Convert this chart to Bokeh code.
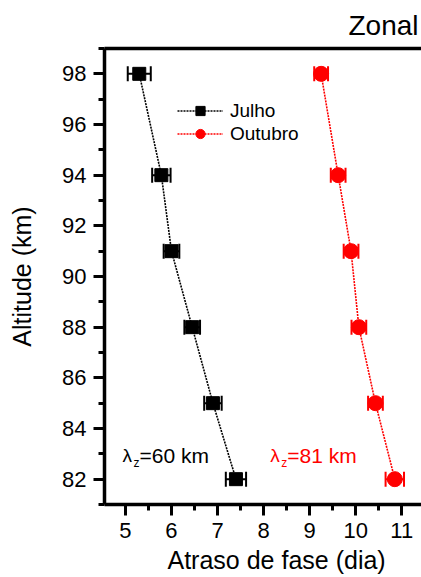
from bokeh.plotting import figure
from bokeh.models import (ColumnDataSource, Whisker, TeeHead, Legend, LegendItem,
                          LinearAxis, FixedTicker, SingleIntervalTicker, Range1d, Label, Title)
from bokeh.embed import file_html
from bokeh.resources import INLINE

# Phase delay (days) versus altitude (km), zonal component
altitude = [98, 94, 91, 88, 85, 82]
julho = [5.30, 5.78, 6.00, 6.45, 6.90, 7.40]
julho_err = [0.25, 0.20, 0.17, 0.17, 0.19, 0.22]
outubro = [9.25, 9.62, 9.90, 10.07, 10.43, 10.85]
outubro_err = [0.15, 0.16, 0.16, 0.16, 0.16, 0.20]
series_names = ["Julho", "Outubro"]
wavelength_labels = ["=60 km", "=81 km"]
x_ticks_step = 1
y_ticks_step = 2

FONT = "Liberation Sans"

p = figure(width=421, height=577, output_backend="svg", toolbar_location=None,
           x_range=Range1d(4.545, 11.43), y_range=Range1d(81, 99),
           min_border_left=104, min_border_right=0, min_border_top=48,
           min_border_bottom=73, x_axis_location="below")
p.outline_line_color = None
p.xgrid.visible = False
p.ygrid.visible = False
p.background_fill_color = "white"
p.border_fill_color = "white"

for ax in (p.xaxis[0], p.yaxis[0]):
    ax.axis_line_width = 3.5
    ax.axis_line_color = "black"
    ax.major_tick_line_width = 3
    ax.minor_tick_line_width = 3
    ax.major_tick_in = 0
    ax.major_tick_out = 11
    ax.minor_tick_in = 0
    ax.minor_tick_out = 6
    ax.major_label_text_font = FONT
    ax.major_label_text_font_size = "22px"
    ax.major_label_text_color = "black"

p.xaxis[0].ticker = SingleIntervalTicker(interval=x_ticks_step, num_minor_ticks=2)
p.yaxis[0].ticker = SingleIntervalTicker(interval=y_ticks_step, num_minor_ticks=2)
p.xaxis[0].major_label_standoff = 7
p.yaxis[0].major_label_standoff = 7

# y axis title
p.yaxis[0].axis_label = "Altitude (km)"
p.yaxis[0].axis_label_text_font = FONT
p.yaxis[0].axis_label_text_font_size = "25px"
p.yaxis[0].axis_label_text_font_style = "normal"
p.yaxis[0].axis_label_text_color = "black"
p.yaxis[0].axis_label_standoff = 23

# top frame line
top = LinearAxis(ticker=FixedTicker(ticks=[], minor_ticks=[]),
                 major_label_text_font_size="0px", axis_line_width=3.5,
                 major_tick_line_color=None, minor_tick_line_color=None)
p.add_layout(top, "above")

# panel title
p.title.text = "Zonal"
p.title.align = "right"
p.title.offset = 3
p.title.standoff = 15
p.title.text_font = FONT
p.title.text_font_size = "28px"
p.title.text_font_style = "normal"
p.title.text_color = "black"

# x axis title, set below the tick labels
p.add_layout(Title(text="Atraso de fase (dia)", align="left", offset=63, standoff=7,
                   text_font=FONT, text_font_size="25px", text_font_style="normal",
                   text_color="black"), "below")

src_j = ColumnDataSource(dict(x=julho, y=altitude,
                              lo=[a - b for a, b in zip(julho, julho_err)],
                              hi=[a + b for a, b in zip(julho, julho_err)]))
src_o = ColumnDataSource(dict(x=outubro, y=altitude,
                              lo=[a - b for a, b in zip(outubro, outubro_err)],
                              hi=[a + b for a, b in zip(outubro, outubro_err)]))

items = []
for src, color, marker, size, name in ((src_j, "black", "square", 13, series_names[0]),
                                        (src_o, "red", "circle", 15, series_names[1])):
    ln = p.line("x", "y", source=src, line_color=color, line_width=1.6, line_dash="2 1")
    wk = Whisker(source=src, base="y", lower="lo", upper="hi", dimension="width",
                 line_color=color, line_width=2,
                 upper_head=TeeHead(size=15, line_color=color, line_width=2),
                 lower_head=TeeHead(size=15, line_color=color, line_width=2))
    p.add_layout(wk)
    sc = p.scatter("x", "y", source=src, marker=marker, size=size,
                   fill_color=color, line_color=color)
    items.append(LegendItem(label=name, renderers=[ln, sc]))

legend = Legend(items=items, location=(73, 359), glyph_width=46, glyph_height=23,
                label_height=23, label_standoff=7, spacing=0, padding=0, margin=0,
                border_line_color=None, background_fill_alpha=0,
                label_text_font=FONT, label_text_font_size="19px",
                label_text_color="black")
p.add_layout(legend, "center")

# wavelength annotations
for (xl, xz, xt), color, txt in (((4.935, 5.174, 5.304), "black", wavelength_labels[0]),
                                  ((8.147, 8.386, 8.516), "red", wavelength_labels[1])):
    p.add_layout(Label(x=xl, y=82.94, text="λ", text_font=FONT, text_font_size="19px",
                       text_color=color, text_baseline="alphabetic"))
    p.add_layout(Label(x=xz, y=82.62, text="z", text_font=FONT, text_font_size="12px",
                       text_color=color, text_baseline="alphabetic"))
    p.add_layout(Label(x=xt, y=82.94, text=txt, text_font=FONT, text_font_size="21px",
                       text_color=color, text_baseline="alphabetic"))

open("out.html", "w").write(file_html(p, INLINE))
